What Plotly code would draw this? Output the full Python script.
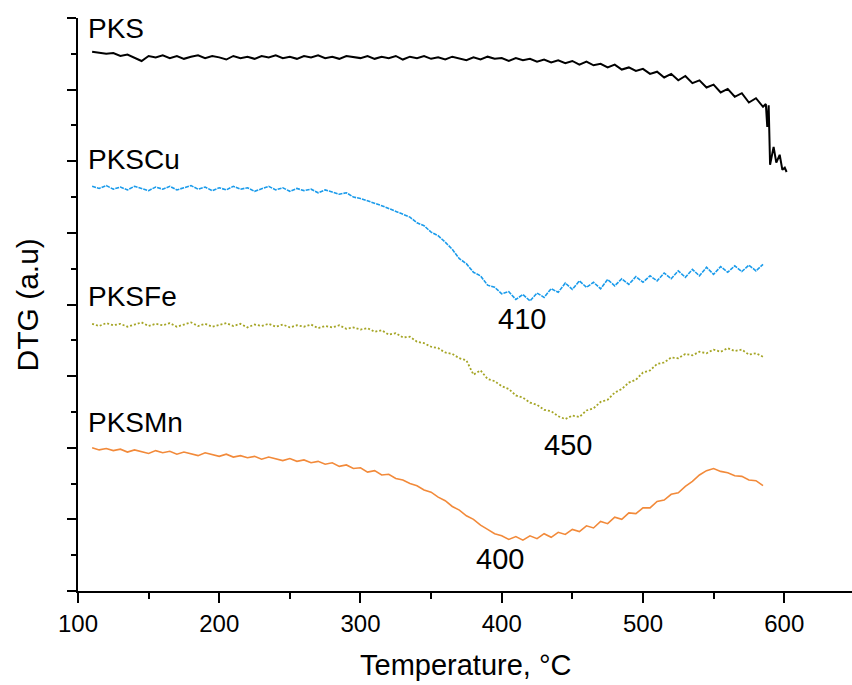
import plotly.graph_objects as go

# ---------------- data ----------------
pks_t = list(range(110, 590, 5)) + [587, 588, 589, 590, 591, 592.5, 594.4, 596.8, 598.7, 600.4, 601.7]
pks_y = [7.53, 7.52, 7.50, 7.51, 7.47, 7.49, 7.44, 7.40, 7.47, 7.45,
         7.48, 7.44, 7.47, 7.43, 7.46, 7.48, 7.44, 7.47, 7.45, 7.42,
         7.47, 7.44, 7.46, 7.43, 7.47, 7.45, 7.48, 7.44, 7.46, 7.43,
         7.47, 7.45, 7.48, 7.44, 7.46, 7.43, 7.47, 7.45, 7.44, 7.47,
         7.43, 7.46, 7.44, 7.47, 7.42, 7.46, 7.44, 7.47, 7.43, 7.45,
         7.42, 7.46, 7.44, 7.41, 7.45, 7.42, 7.46, 7.43, 7.44, 7.40,
         7.44, 7.41, 7.43, 7.39, 7.42, 7.38, 7.41, 7.37, 7.40, 7.35,
         7.39, 7.34, 7.36, 7.31, 7.35, 7.28, 7.31, 7.26, 7.29, 7.22,
         7.25, 7.17, 7.22, 7.13, 7.19, 7.09, 7.13, 7.03, 7.07, 6.96,
         7.01, 6.90, 6.95, 6.82, 6.88, 6.76,
         6.80, 6.48, 6.78, 5.95, 6.05, 6.20, 5.98, 6.09, 5.88, 5.91, 5.85]

cu_t = list(range(110, 590, 5))
cu_y = [5.65, 5.62, 5.66, 5.61, 5.64, 5.60, 5.65, 5.62, 5.59, 5.64,
        5.61, 5.65, 5.60, 5.63, 5.66, 5.61, 5.64, 5.59, 5.63, 5.60,
        5.65, 5.61, 5.63, 5.58, 5.62, 5.65, 5.60, 5.63, 5.58, 5.62,
        5.59, 5.61, 5.56, 5.60, 5.57, 5.54, 5.56, 5.50, 5.48, 5.45,
        5.42, 5.38, 5.34, 5.30, 5.26, 5.22, 5.14, 5.10, 5.01, 4.96,
        4.87, 4.77, 4.64, 4.57, 4.45, 4.40, 4.27, 4.24, 4.15, 4.18,
        4.07, 4.14, 4.05, 4.16, 4.10, 4.22, 4.17, 4.30, 4.21, 4.33,
        4.24, 4.31, 4.22, 4.35, 4.26, 4.36, 4.28, 4.39, 4.31, 4.40,
        4.33, 4.44, 4.36, 4.47, 4.38, 4.49, 4.40, 4.52, 4.42, 4.53,
        4.45, 4.54, 4.46, 4.55, 4.47, 4.56]

fe_t = list(range(110, 590, 5))
fe_y = [3.73, 3.70, 3.74, 3.71, 3.73, 3.69, 3.72, 3.75, 3.70, 3.73,
        3.71, 3.74, 3.69, 3.72, 3.75, 3.70, 3.73, 3.69, 3.72, 3.74,
        3.70, 3.73, 3.68, 3.72, 3.70, 3.73, 3.69, 3.72, 3.68, 3.71,
        3.69, 3.72, 3.67, 3.70, 3.68, 3.71, 3.66, 3.68, 3.65, 3.67,
        3.62, 3.64, 3.58, 3.60, 3.54, 3.55, 3.48, 3.46, 3.41, 3.39,
        3.33, 3.31, 3.25, 3.22, 3.02, 3.08, 2.96, 2.93, 2.86, 2.82,
        2.73, 2.70, 2.63, 2.60, 2.53, 2.51, 2.44, 2.40, 2.45, 2.43,
        2.52, 2.55, 2.64, 2.67, 2.77, 2.82, 2.91, 2.95, 3.05, 3.08,
        3.17, 3.19, 3.26, 3.25, 3.31, 3.29, 3.34, 3.32, 3.37, 3.34,
        3.39, 3.35, 3.37, 3.30, 3.32, 3.27]

mn_t = list(range(110, 590, 5))
mn_y = [2.00, 1.97, 1.99, 1.96, 1.98, 1.94, 1.97, 1.95, 1.92, 1.96,
        1.93, 1.95, 1.91, 1.94, 1.92, 1.89, 1.93, 1.90, 1.88, 1.91,
        1.87, 1.89, 1.86, 1.88, 1.84, 1.87, 1.85, 1.82, 1.85, 1.81,
        1.83, 1.79, 1.81, 1.77, 1.79, 1.74, 1.76, 1.71, 1.72, 1.66,
        1.68, 1.62, 1.63, 1.57, 1.55, 1.50, 1.47, 1.41, 1.38, 1.31,
        1.26, 1.18, 1.13, 1.05, 1.00, 0.92, 0.86, 0.80, 0.77, 0.72,
        0.76, 0.71, 0.77, 0.73, 0.80, 0.75, 0.82, 0.79, 0.86, 0.83,
        0.91, 0.88, 0.97, 0.94, 1.03, 1.00, 1.09, 1.08, 1.16, 1.16,
        1.25, 1.27, 1.35, 1.37, 1.46, 1.53, 1.62, 1.68, 1.71, 1.67,
        1.65, 1.61, 1.60, 1.55, 1.54, 1.47]

series_names = ["PKS", "PKSCu", "PKSFe", "PKSMn"]
series_colors = ["#000000", "#1A9BEB", "#A5A525", "#F28A3A"]

# label positions (data coords)
name_label_x = [106, 106, 106, 106]
name_label_y = [7.86, 6.02, 4.11, 2.35]
peak_labels = ["410", "450", "400"]
peak_label_x = [414, 447, 399]
peak_label_y = [3.80, 2.04, 0.45]

x_ticks = [100, 200, 300, 400, 500, 600]

FONT = "Liberation Sans, Arial, sans-serif"

fig = go.Figure()
fig.add_trace(go.Scatter(x=pks_t, y=pks_y, mode="lines", name="PKS",
                         line=dict(color=series_colors[0], width=2)))
fig.add_trace(go.Scatter(x=cu_t, y=cu_y, mode="lines", name="PKSCu",
                         line=dict(color=series_colors[1], width=1.6, dash="4px,1px")))
fig.add_trace(go.Scatter(x=fe_t, y=fe_y, mode="lines", name="PKSFe",
                         line=dict(color=series_colors[2], width=1.8, dash="2px,2px")))
fig.add_trace(go.Scatter(x=mn_t, y=mn_y, mode="lines", name="PKSMn",
                         line=dict(color=series_colors[3], width=1.6)))

annotations = []
for name, lx, ly in zip(series_names, name_label_x, name_label_y):
    annotations.append(dict(x=lx, y=ly, xref="x", yref="y", text=name, showarrow=False,
                            xanchor="left", yanchor="middle",
                            font=dict(family=FONT, size=28, color="black")))
for txt, lx, ly in zip(peak_labels, peak_label_x, peak_label_y):
    annotations.append(dict(x=lx, y=ly, xref="x", yref="y", text=txt, showarrow=False,
                            xanchor="center", yanchor="middle",
                            font=dict(family=FONT, size=29, color="black")))
annotations.append(dict(x=0.5, y=-0.129, xref="paper", yref="paper", text="Temperature, °C",
                        showarrow=False, xanchor="center", yanchor="middle",
                        font=dict(family=FONT, size=29, color="black")))
annotations.append(dict(x=-0.0646, y=0.5, xref="paper", yref="paper", text="DTG (a.u)",
                        showarrow=False, xanchor="center", yanchor="middle", textangle=-90,
                        font=dict(family=FONT, size=30, color="black")))

fig.update_layout(
    width=852, height=685, autosize=False,
    margin=dict(l=78, r=0, t=18, b=94),
    paper_bgcolor="white", plot_bgcolor="white",
    showlegend=False,
    annotations=annotations,
    xaxis=dict(range=[100, 648], showline=True, linecolor="black", linewidth=2,
               ticks="outside", ticklen=10, tickwidth=2, tickcolor="black",
               tickvals=x_ticks, showgrid=False, zeroline=False,
               tickfont=dict(family=FONT, size=24, color="black"),
               minor=dict(dtick=50, tick0=100, ticks="outside", ticklen=6, tickwidth=2,
                          tickcolor="black", showgrid=False)),
    yaxis=dict(range=[0, 8], showline=True, linecolor="black", linewidth=2,
               ticks="outside", ticklen=9, tickwidth=2, tickcolor="black",
               dtick=1, tick0=0, showticklabels=False, showgrid=False, zeroline=False,
               minor=dict(dtick=0.5, tick0=0, ticks="outside", ticklen=5, tickwidth=2,
                          tickcolor="black", showgrid=False)),
)

fig.write_html("out.html")
